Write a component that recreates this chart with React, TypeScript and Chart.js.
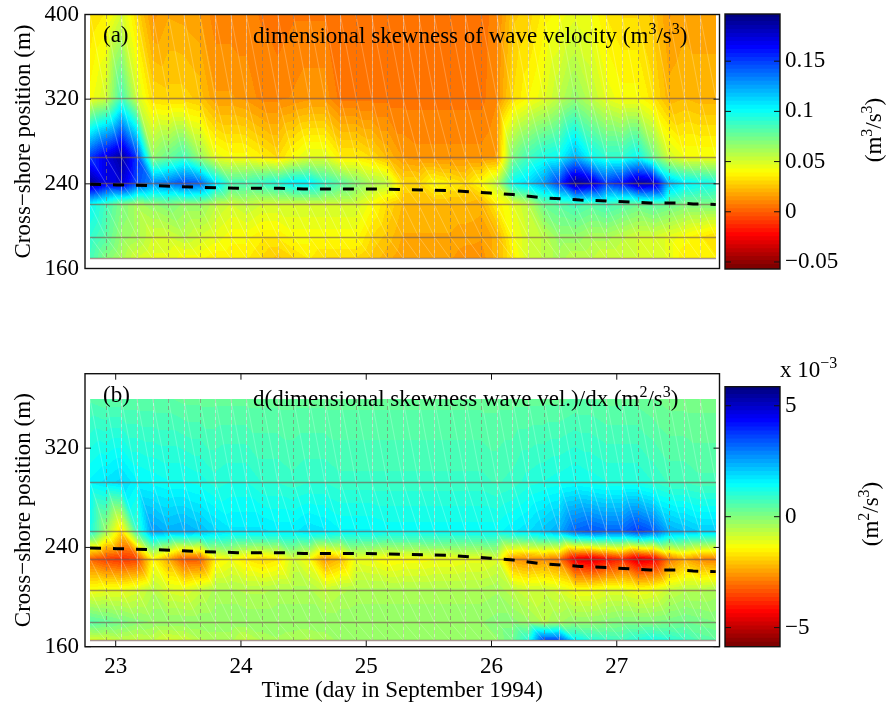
import React, { useEffect, useRef } from "react";
import { Chart, registerables } from "chart.js";
Chart.register(...registerables);

const FONT = "'Liberation Serif', serif";
const dayTicks = [23, 24, 25, 26, 27];
const timeAxis = [22.795, 27.79];
const columnCount = 41;

// ---- panel (a): dimensional skewness of wave velocity, rows in cross-shore position
const skewPositions = [399.5, 321.4, 265.4, 240.8, 220.5, 190.2, 169.9];
const skewRow400 = [.03,.035,.05,.03,.013,.018,.017,.015,.008,.008,.008,.006,.004,.006,.006,.006,.004,.004,.003,.003,.004,.004,.004,.004,.004,.004,.009,.025,.028,.036,.04,.045,.042,.034,.03,.03,.025,.014,.017,.017,.017];
const skewRow321 = [.04,.05,.085,.05,.03,.028,.028,.025,.015,.015,.013,.009,.009,.011,.013,.013,.005,.005,.005,.005,.005,.005,.005,.005,.005,.005,.01,.03,.038,.045,.055,.065,.055,.045,.04,.04,.032,.02,.022,.02,.02];
const skewRow265 = [.15,.17,.188,.15,.065,.075,.085,.065,.045,.04,.04,.035,.03,.04,.047,.047,.035,.035,.03,.022,.014,.012,.012,.012,.012,.012,.015,.07,.085,.095,.1,.12,.1,.09,.09,.1,.075,.05,.042,.042,.042];
const skewRow240 = [.19,.17,.175,.145,.13,.135,.145,.14,.11,.085,.085,.09,.095,.105,.105,.09,.08,.07,.06,.055,.03,.03,.04,.035,.03,.04,.055,.1,.11,.125,.15,.19,.18,.15,.16,.185,.18,.12,.105,.1,.095];
const skewRow220 = [.1,.085,.07,.06,.065,.07,.065,.065,.055,.05,.055,.05,.05,.05,.05,.05,.05,.05,.04,.03,.022,.022,.022,.022,.022,.02,.035,.045,.055,.075,.08,.085,.08,.085,.08,.075,.08,.075,.07,.07,.07];
const skewRow190 = [.09,.08,.065,.06,.05,.05,.055,.05,.045,.04,.04,.035,.035,.04,.04,.04,.04,.04,.03,.025,.018,.018,.018,.018,.016,.015,.02,.04,.05,.055,.065,.065,.06,.06,.055,.05,.05,.045,.04,.035,.03];
const skewRow170 = [.085,.07,.06,.05,.045,.045,.04,.04,.035,.035,.035,.03,.025,.03,.035,.03,.03,.03,.025,.02,.015,.015,.015,.015,.012,.012,.02,.035,.05,.055,.06,.055,.055,.05,.05,.05,.05,.045,.035,.035,.035];
const skewGrid = [skewRow400, skewRow321, skewRow265, skewRow240, skewRow220, skewRow190, skewRow170];

// ---- panel (b): d(skewness)/dx, in units of 1e-3
const gradPositions = [359.5, 293, 253, 230.7, 205.7, 180, 165.4];
const gradRow360 = [.5,.4,.4,.4,.4,.4,.3,.3,.3,.3,.3,.3,.3,.3,.3,.3,.3,.3,.3,.3,.3,.3,.3,.3,.3,.3,.3,.3,.3,.3,.3,.4,.4,.3,.3,.3,.2,.1,.1,.1,.1];
const gradRow293 = [1.5,1.7,1.9,1.5,1.4,1.3,1.3,1.2,1,1.1,1.1,.9,.9,.8,.9,.9,.8,.8,.8,.8,.8,.8,.8,.8,.8,.8,.7,.8,1,1.1,1.2,1.3,1.2,1.1,1.1,1.1,.9,.7,.7,.6,.6];
const gradRow253 = [1.2,-.3,-1.8,.8,2.6,2.3,2.4,2.2,1.9,1.7,1.7,1.7,1.6,1.6,1.8,1.7,1.5,1.5,1.5,1.4,1.4,1.4,1.4,1.4,1.4,1.4,1.4,1.6,1.8,2.1,2.4,3.2,3.4,3.2,3.2,3.7,3.3,2.4,2.2,2,2];
const gradRow231 = [-3.2,-3.6,-3.8,-3.6,-1.5,-2.4,-3.4,-3.3,-1.6,-1.3,-1.7,-1.9,-1.7,-.9,-1.4,-2.6,-2.2,-1.2,-1.3,-1.5,-1.4,-1.4,-1.3,-1.3,-1.2,-1.2,-1,-2.6,-2.8,-2.7,-3,-4.6,-4.8,-4.3,-3.9,-4.8,-4.5,-3,-2.4,-2.8,-2.9];
const gradRow206 = [-1.3,-1.2,-1.2,-1,-.6,-1,-1.1,-.8,-.5,-.5,-.6,-.6,-.5,-.5,-.5,-.8,-.6,-.5,-.5,-.5,-.5,-.5,-.5,-.5,-.5,-.5,-.4,-.7,-.9,-.8,-1,-1.3,-1.3,-1.1,-1.1,-1.3,-1.2,-.8,-.6,-.6,-.5];
const gradRow180 = [.5,.3,.1,-.1,-.2,-.2,-.2,-.2,-.2,-.2,-.2,-.2,-.2,-.2,-.2,-.2,-.2,-.2,-.2,-.2,-.2,-.2,-.2,-.2,-.2,-.2,-.1,-.1,-.3,-.6,-.4,-.2,-.2,-.1,0,0,0,.1,.2,.1,0];
const gradRow165 = [-1,-.9,-.7,-.8,-.7,-1,-.9,-.6,-.5,-.5,-.8,-.5,-.4,-.5,-.6,-.5,-.3,-.3,-.3,-.3,-.3,-.3,-.3,-.3,-.3,-.3,-.2,.2,1,3.5,3.5,1.5,1,.8,.7,1,1.2,1,.8,.5,.4];
const gradGrid = [gradRow360, gradRow293, gradRow253, gradRow231, gradRow206, gradRow180, gradRow165];

// ---- shoreline (dashed)
const shoreDays = [22.795, 23.01, 23.39, 23.67, 23.97, 24.31, 24.5, 25, 25.653, 25.988, 26.172, 26.388, 26.708, 26.923, 27.266, 27.482, 27.61, 27.79];
const shorePos = [239.6, 239, 238, 236.7, 235.8, 235.8, 235.2, 235.2, 233.7, 231.3, 229.9, 227, 224.7, 223.8, 221.9, 221.9, 221, 220.5];

// ---- colour limits and colour bar ticks
const skewLimits = [-0.057, 0.197];
const gradLimits = [-5.86, 5.86];
const skewBarTicks = [-0.05, 0, 0.05, 0.1, 0.15];
const skewBarLabels = ["\u22120.05", "0", "0.05", "0.1", "0.15"];
const gradBarTicks = [-5, 0, 5];
const gradBarLabels = ["\u22125", "0", "5"];

const clamp = (v: number) => Math.max(0, Math.min(1, v));
function jetRev(v: number, lim: number[]) {
  let n = (v - lim[0]) / (lim[1] - lim[0]);
  n = Math.floor(clamp(n) * 63.999) / 63;
  const f = 1 - n;
  return [clamp(1.5 - Math.abs(4 * f - 3)), clamp(1.5 - Math.abs(4 * f - 2)), clamp(1.5 - Math.abs(4 * f - 1))].map((c) => Math.round(c * 255));
}

function heatPlugin(grid: number[][], positions: number[], lim: number[]) {
  return {
    id: "heat",
    beforeDatasetsDraw(chart: any) {
      const { ctx, scales } = chart;
      const xs: number[] = [];
      for (let k = 0; k < columnCount; k++) {
        const d = timeAxis[0] + ((timeAxis[1] - timeAxis[0]) * k) / (columnCount - 1);
        xs.push(scales.x.getPixelForValue(d));
      }
      const ys = positions.map((p) => scales.y.getPixelForValue(p));
      const x0 = Math.round(xs[0]);
      const x1 = Math.round(xs[columnCount - 1]);
      const y0 = Math.round(ys[0]);
      const y1 = Math.round(ys[ys.length - 1]);
      const w = x1 - x0;
      const h = y1 - y0;
      const img = ctx.createImageData(w, h);
      let row = 0;
      for (let py = 0; py < h; py++) {
        const Y = y0 + py + 0.5;
        while (row < ys.length - 2 && Y > ys[row + 1]) row++;
        let col = 0;
        for (let px = 0; px < w; px++) {
          const X = x0 + px + 0.5;
          while (col < columnCount - 2 && X > xs[col + 1]) col++;
          const u = clamp((X - xs[col]) / (xs[col + 1] - xs[col]));
          const v = clamp((Y - ys[row]) / (ys[row + 1] - ys[row]));
          const TL = grid[row][col];
          const TR = grid[row][col + 1];
          const BL = grid[row + 1][col];
          const BR = grid[row + 1][col + 1];
          const val = u >= v ? TL * (1 - u) + TR * (u - v) + BR * v : TL * (1 - v) + BL * (v - u) + BR * u;
          const c = jetRev(val, lim);
          const i = (py * w + px) * 4;
          img.data[i] = c[0];
          img.data[i + 1] = c[1];
          img.data[i + 2] = c[2];
          img.data[i + 3] = 255;
        }
      }
      ctx.putImageData(img, x0, y0);

      ctx.save();
      // diagonal seams of the triangulated surface
      ctx.lineWidth = 0.8;
      ctx.strokeStyle = "rgba(255,255,255,0.3)";
      ctx.beginPath();
      for (let r = 0; r < ys.length - 1; r++) {
        for (let k = 0; k < columnCount - 1; k++) {
          ctx.moveTo(xs[k], ys[r]);
          ctx.lineTo(xs[k + 1], ys[r + 1]);
        }
      }
      ctx.stroke();
      // vertical seams
      xs.forEach((x, k) => {
        if (k === 0 || k === columnCount - 1) return;
        const light = k % 2 === 0 || k % 3 === 0;
        if (light) {
          ctx.strokeStyle = "rgba(255,255,255,0.45)";
          ctx.lineWidth = 1;
          ctx.setLineDash([]);
          ctx.beginPath();
          ctx.moveTo(Math.round(x) + 0.5, y0);
          ctx.lineTo(Math.round(x) + 0.5, y1);
          ctx.stroke();
        }
        ctx.strokeStyle = light ? "rgba(170,140,130,0.35)" : "rgba(140,115,105,0.6)";
        ctx.lineWidth = 1;
        ctx.setLineDash([4, 3]);
        ctx.beginPath();
        ctx.moveTo(Math.round(x) + 0.5, y0);
        ctx.lineTo(Math.round(x) + 0.5, y1);
        ctx.stroke();
      });
      ctx.setLineDash([]);
      // horizontal seams
      ctx.strokeStyle = "rgba(120,90,80,0.65)";
      ctx.lineWidth = 1.6;
      ys.slice(1).forEach((y) => {
        ctx.beginPath();
        ctx.moveTo(x0, Math.round(y) + 0.5);
        ctx.lineTo(x1, Math.round(y) + 0.5);
        ctx.stroke();
      });
      ctx.restore();
    },
  };
}

type Run = [string, boolean];
function drawRuns(ctx: any, runs: Run[], x: number, y: number) {
  let cx = x;
  runs.forEach(([t, sup]) => {
    ctx.font = (sup ? "16px " : "23px ") + FONT;
    ctx.fillText(t, cx, sup ? y - 9 : y);
    cx += ctx.measureText(t).width;
  });
}

function framePlugin(showXTicks: boolean, texts: { runs: Run[]; x: number; y: number }[]) {
  return {
    id: "frame",
    afterDraw(chart: any) {
      const { ctx, chartArea: a, scales } = chart;
      ctx.save();
      ctx.strokeStyle = "#111";
      ctx.lineWidth = 1.4;
      ctx.strokeRect(a.left, a.top, a.right - a.left, a.bottom - a.top);
      ctx.lineWidth = 1;
      ctx.beginPath();
      scales.y.ticks.forEach((t: any) => {
        const y = scales.y.getPixelForValue(t.value);
        ctx.moveTo(a.left, y);
        ctx.lineTo(a.left + 6, y);
        ctx.moveTo(a.right, y);
        ctx.lineTo(a.right - 6, y);
      });
      if (showXTicks) {
        scales.x.ticks.forEach((t: any) => {
          const x = scales.x.getPixelForValue(t.value);
          ctx.moveTo(x, a.top);
          ctx.lineTo(x, a.top + 6);
          ctx.moveTo(x, a.bottom);
          ctx.lineTo(x, a.bottom - 6);
        });
      }
      ctx.stroke();
      ctx.fillStyle = "#000";
      ctx.textAlign = "left";
      ctx.textBaseline = "alphabetic";
      texts.forEach((t) => drawRuns(ctx, t.runs, t.x, t.y));
      ctx.restore();
    },
  };
}

function panelConfig(o: {
  grid: number[][]; positions: number[]; lim: number[]; yMax: number; yTicks: number[];
  top: number; bottom: number; showX: boolean; texts: { runs: Run[]; x: number; y: number }[];
}) {
  return {
    type: "scatter",
    data: {
      datasets: [{
        label: "shoreline",
        data: shoreDays.map((d, i) => ({ x: d, y: shorePos[i] })),
        showLine: true,
        borderColor: "#000",
        borderWidth: 3,
        borderDash: [11, 12],
        pointRadius: 0,
        tension: 0,
      }],
    },
    options: {
      animation: false,
      responsive: false,
      layout: { padding: { left: 0, right: 169.5, top: o.top, bottom: o.showX ? 0 : 708 - o.bottom } },
      plugins: { legend: { display: false }, tooltip: { enabled: false } },
      scales: {
        x: {
          type: "linear",
          min: 22.755,
          max: 27.82,
          display: o.showX,
          afterBuildTicks: (s: any) => { s.ticks = dayTicks.map((value) => ({ value })); },
          afterFit: (s: any) => {
            if (o.showX) s.height = 708 - o.bottom;
            s.paddingLeft = 0;
            s.paddingRight = 0;
          },
          grid: { display: false, drawTicks: false },
          border: { display: false },
          ticks: { font: { family: FONT, size: 23 }, color: "#000", padding: 6, maxRotation: 0, autoSkip: false, callback: (v: any) => String(v) },
          title: { display: o.showX, text: "Time (day in September 1994)", font: { family: FONT, size: 23 }, color: "#000", padding: { top: 0, bottom: 3 } },
        },
        y: {
          type: "linear",
          min: 160,
          max: o.yMax,
          afterBuildTicks: (s: any) => { s.ticks = o.yTicks.map((value) => ({ value })); },
          afterFit: (s: any) => { s.width = 85; s.paddingTop = 0; s.paddingBottom = 0; },
          grid: { display: false, drawTicks: false },
          border: { display: false },
          ticks: { font: { family: FONT, size: 23 }, color: "#000", padding: 6, autoSkip: false, callback: (v: any) => String(v) },
          title: { display: true, text: "Cross\u2212shore position (m)", font: { family: FONT, size: 23 }, color: "#000", padding: { top: 10, bottom: 0 } },
        },
      },
    },
    plugins: [heatPlugin(o.grid, o.positions, o.lim), framePlugin(o.showX, o.texts)],
  };
}

function barConfig(o: {
  lim: number[]; ticks: number[]; labels: string[]; top: number; bottom: number;
  unit: Run[]; unitX: number; unitY: number; extra: { runs: Run[]; x: number; y: number }[];
}) {
  const levels = Array.from({ length: 64 }, (_, i) => i);
  const step = (o.lim[1] - o.lim[0]) / 64;
  return {
    type: "bar",
    data: {
      labels: ["colour"],
      datasets: levels.map((i) => {
        const lo = o.lim[0] + i * step;
        const c = jetRev(lo + step / 2, o.lim);
        return {
          label: "level" + i,
          data: [[lo, i === 63 ? lo + step : lo + step * 1.15]],
          backgroundColor: `rgb(${c[0]},${c[1]},${c[2]})`,
          borderWidth: 0,
          barPercentage: 1,
          categoryPercentage: 1,
          grouped: false,
        };
      }),
    },
    options: {
      animation: false,
      responsive: false,
      layout: { padding: { left: 725, right: 0, top: o.top, bottom: 708 - o.bottom } },
      plugins: { legend: { display: false }, tooltip: { enabled: false } },
      scales: {
        x: { display: false },
        y: {
          position: "right",
          type: "linear",
          min: o.lim[0],
          max: o.lim[1],
          afterBuildTicks: (s: any) => { s.ticks = o.ticks.map((value) => ({ value })); },
          afterFit: (s: any) => { s.width = 109; s.paddingTop = 0; s.paddingBottom = 0; },
          grid: { display: false, drawTicks: false },
          border: { display: false },
          ticks: {
            font: { family: FONT, size: 23 }, color: "#000", padding: 5, autoSkip: false,
            callback: (v: any) => o.labels[o.ticks.findIndex((t) => Math.abs(t - v) < 1e-9)] ?? "",
          },
        },
      },
    },
    plugins: [
      framePlugin(false, o.extra),
      {
        id: "unit",
        afterDraw(chart: any) {
          const { ctx } = chart;
          ctx.save();
          ctx.translate(o.unitX, o.unitY);
          ctx.rotate(-Math.PI / 2);
          ctx.fillStyle = "#000";
          ctx.textAlign = "left";
          ctx.textBaseline = "alphabetic";
          let w = 0;
          o.unit.forEach(([t, sup]) => {
            ctx.font = (sup ? "16px " : "23px ") + FONT;
            w += ctx.measureText(t).width;
          });
          drawRuns(ctx, o.unit, -w / 2, 0);
          ctx.restore();
        },
      },
    ],
  };
}

const configs: any[] = [
  panelConfig({
    grid: skewGrid, positions: skewPositions, lim: skewLimits, yMax: 400, yTicks: [160, 240, 320, 400],
    top: 14.5, bottom: 268.5, showX: false,
    texts: [
      { runs: [["(a)", false]], x: 103, y: 42 },
      { runs: [["dimensional skewness of wave velocity (m", false], ["3", true], ["/s", false], ["3", true], [")", false]], x: 253, y: 43 },
    ],
  }),
  panelConfig({
    grid: gradGrid, positions: gradPositions, lim: gradLimits, yMax: 380, yTicks: [160, 240, 320],
    top: 373.7, bottom: 646.7, showX: true,
    texts: [
      { runs: [["(b)", false]], x: 103, y: 402 },
      { runs: [["d(dimensional skewness wave vel.)/dx (m", false], ["2", true], ["/s", false], ["3", true], [")", false]], x: 253, y: 406 },
    ],
  }),
  barConfig({
    lim: skewLimits, ticks: skewBarTicks, labels: skewBarLabels, top: 14, bottom: 269,
    unit: [["(m", false], ["3", true], ["/s", false], ["3", true], [")", false]], unitX: 881, unitY: 130, extra: [],
  }),
  barConfig({
    lim: gradLimits, ticks: gradBarTicks, labels: gradBarLabels, top: 386.7, bottom: 646.7,
    unit: [["(m", false], ["2", true], ["/s", false], ["3", true], [")", false]], unitX: 878, unitY: 514,
    extra: [{ runs: [["x 10", false], ["\u22123", true]], x: 780, y: 377 }],
  }),
];

function Layer({ config }: { config: any }) {
  const ref = useRef<HTMLCanvasElement>(null);
  useEffect(() => {
    const chart = new Chart(ref.current as HTMLCanvasElement, config);
    return () => chart.destroy();
  }, [config]);
  return <canvas ref={ref} width={889} height={708} style={{ position: "absolute", left: 0, top: 0, width: 889, height: 708 }} />;
}

export default function App() {
  return (
    <div style={{ position: "fixed", left: 0, top: 0, width: 889, height: 708, overflow: "hidden", background: "#fff" }}>
      {configs.map((c, i) => <Layer key={i} config={c} />)}
    </div>
  );
}
